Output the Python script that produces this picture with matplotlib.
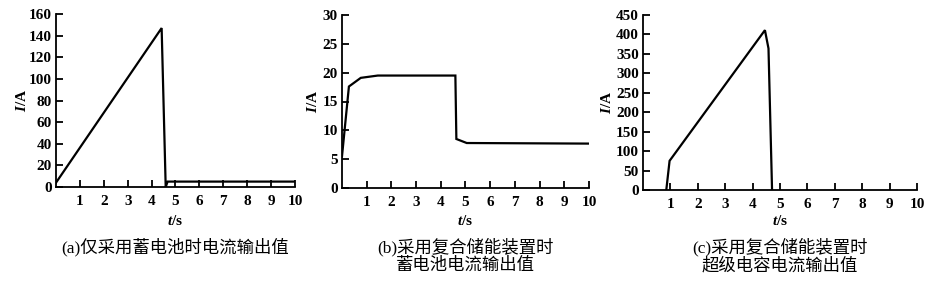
import matplotlib
matplotlib.use("Agg")
import matplotlib.pyplot as plt

# (a) battery only
t_a = [0, 4.42, 4.59, 4.67, 10]
i_a = [4, 147, 0, 5, 5]

# (b) hybrid storage, battery current
t_b = [0, 0.28, 0.76, 1.45, 4.59, 4.63, 5.05, 10]
i_b = [5.5, 17.6, 19.1, 19.5, 19.5, 8.5, 7.8, 7.7]

# (c) hybrid storage, supercapacitor current
t_c = [0.85, 0.97, 4.45, 4.58, 4.71]
i_c = [0, 75, 411, 364, 0]

x_ticks = list(range(1, 11))
y_ticks_a = list(range(0, 161, 20))
y_ticks_b = list(range(0, 31, 5))
y_ticks_c = list(range(0, 451, 50))

captions = [
    ["(a)仅采用蓄电池时电流输出值"],
    ["(b)采用复合储能装置时", "蓄电池电流输出值"],
    ["(c)采用复合储能装置时", "超级电容电流输出值"],
]

W, H = 928, 286
fam = ["Liberation Serif", "Noto Sans CJK SC"]
plt.rcParams["font.family"] = fam
plt.rcParams["mathtext.fontset"] = "custom"
plt.rcParams["mathtext.bfit"] = "Liberation Serif:italic:bold"
plt.rcParams["mathtext.it"] = "Liberation Serif:italic:bold"

fig = plt.figure(figsize=(W / 100, H / 100), dpi=100)


def px_axes(x0, x1, ytop, ybot):
    return fig.add_axes([x0 / W, 1 - ybot / H, (x1 - x0) / W, (ybot - ytop) / H])


panels = [
    (px_axes(56, 295, 14, 187), t_a, i_a, y_ticks_a, 22),
    (px_axes(342, 589, 15, 188), t_b, i_b, y_ticks_b, 313),
    (px_axes(643, 917, 15, 190), t_c, i_c, y_ticks_c, 607),
]

for k, (ax, t, i, yt, ylx) in enumerate(panels):
    ax.plot(t, i, color="black", lw=1.6, solid_joinstyle="miter")
    ax.set_xlim(0, 10)
    ax.set_ylim(yt[0], yt[-1])
    ax.set_xticks(x_ticks)
    ax.set_yticks(yt)
    for s in ("top", "right"):
        ax.spines[s].set_visible(False)
    for s in ("left", "bottom"):
        ax.spines[s].set_linewidth(1.3)
    ax.tick_params(direction="in", length=5, width=1.3, labelsize=11)
    ax.tick_params(axis="x", pad=5.5)
    ax.tick_params(axis="y", pad=3)
    for lab in ax.get_xticklabels() + ax.get_yticklabels():
        lab.set_fontweight("bold")
    pos = ax.get_position()
    cx = (pos.x0 + pos.x1) / 2
    fig.text(cx, 1 - 221 / H, r"$t$/s", ha="center", va="center",
             fontsize=11, fontweight="bold")
    fig.text(ylx / W, (pos.y0 + pos.y1) / 2, r"$I$/A", ha="center",
             va="center", rotation=90, fontsize=11, fontweight="bold")
    for j, line in enumerate(captions[k]):
        fig.text(cx, 1 - (247 + 19 * j) / H, line, ha="center", va="center",
                 fontsize=12.5, family=fam)

fig.savefig("out.png", dpi=100)
